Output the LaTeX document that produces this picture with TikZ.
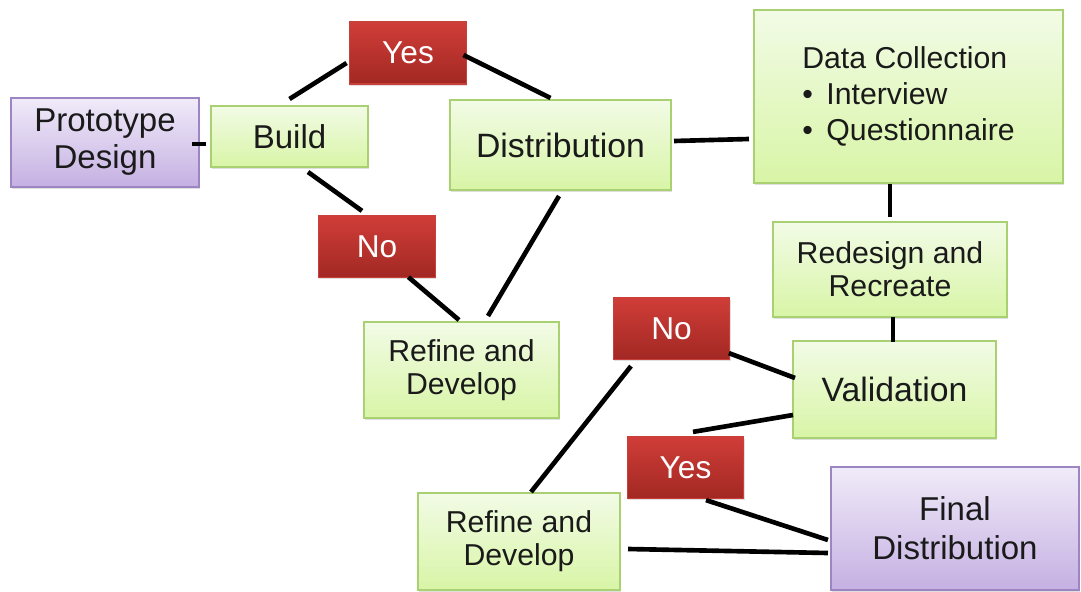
\documentclass[tikz,border=0pt]{standalone}
\usepackage{fontspec}
\setmainfont{Liberation Sans}
\usetikzlibrary{shadows}
\definecolor{greentop}{HTML}{F2FBE6}
\definecolor{greenbot}{HTML}{D8F5A6}
\definecolor{greenedge}{HTML}{A9D071}
\definecolor{redtop}{HTML}{D03D38}
\definecolor{redbot}{HTML}{A22823}
\definecolor{rededge}{HTML}{C9403B}
\definecolor{purpletop}{HTML}{F0EBF9}
\definecolor{purplebot}{HTML}{C5B0E2}
\definecolor{purpleedge}{HTML}{9C85C2}
\definecolor{inkgray}{HTML}{1A1A1A}
\begin{document}
\begin{tikzpicture}[x=0.025cm,y=-0.025cm,
        box/.style={rectangle,inner sep=0pt,outer sep=0pt,line width=0.8pt,align=center,
            drop shadow={shadow xshift=0.6pt,shadow yshift=-1.2pt,opacity=0.25}},
        greenbox/.style={box,draw=greenedge,top color=greentop,bottom color=greenbot,text=inkgray},
        redbox/.style={box,draw=rededge,top color=redtop,bottom color=redbot,text=white,
            minimum width=2.92cm,minimum height=1.53cm,font=\fontsize{22.5}{26}\selectfont},
        purplebox/.style={box,draw=purpleedge,top color=purpletop,bottom color=purplebot,text=inkgray},
        link/.style={line width=3.3pt,black}]
    \useasboundingbox (0,0) rectangle (1081,592);
    % left loop
    \node[purplebox,minimum width=4.7cm,minimum height=2.225cm,font=\fontsize{23.5}{26.3}\selectfont] (proto) at (105,142.5) {Prototype\\Design};
    \node[greenbox,minimum width=3.925cm,minimum height=1.525cm,font=\fontsize{23.5}{27}\selectfont] (build) at (289.5,136.5) {Build};
    \node[redbox,minimum height=1.55cm] (yes1) at (408,53) {Yes};
    \node[greenbox,minimum width=5.525cm,minimum height=2.25cm,font=\fontsize{24}{27}\selectfont] (dist) at (560.5,145) {Distribution};
    \node[redbox] (no1) at (377,246.5) {No};
    \node[greenbox,minimum width=4.875cm,minimum height=2.4cm,font=\fontsize{21.5}{23.5}\selectfont] (refine1) at (461.5,370) {Refine and\\Develop};
    % right side
    \node[greenbox,minimum width=7.725cm,minimum height=4.325cm,align=left,font=\fontsize{21.5}{25.6}\selectfont] (data) at (908.5,96.5)
        {Data Collection\\\makebox[0.8em][l]{\textbullet}Interview\\\makebox[0.8em][l]{\textbullet}Questionnaire};
    \node[greenbox,minimum width=5.85cm,minimum height=2.375cm,font=\fontsize{21.5}{23.5}\selectfont] (redesign) at (890,269.5) {Redesign and\\Recreate};
    \node[redbox] (no2) at (671.5,328.5) {No};
    \node[greenbox,minimum width=5.075cm,minimum height=2.425cm,font=\fontsize{24}{27}\selectfont] (valid) at (894.5,389.5) {Validation};
    \node[redbox] (yes2) at (685.5,467.5) {Yes};
    \node[greenbox,minimum width=5.05cm,minimum height=2.425cm,font=\fontsize{21.5}{23.5}\selectfont] (refine2) at (519,541.5) {Refine and\\Develop};
    \node[purplebox,minimum width=6.2cm,minimum height=3.075cm,font=\fontsize{23.5}{27.7}\selectfont] (final) at (955,528.5) {Final\\Distribution};
    % connectors
    \draw[link] ([shift={(-7,1.5)}]proto.east) -- ([shift={(-5,7.5)}]build.west);
    \draw[link] ([shift={(0,-7)}]build.north) -- ([shift={(-3,10)}]yes1.west);
    \draw[link] ([shift={(-3,2)}]yes1.east) -- ([shift={(-10,-2)}]dist.north);
    \draw[link] ([shift={(18.5,5)}]build.south) -- ([shift={(-15,-5)}]no1.north);
    \draw[link] ([shift={(-27,0)}]no1.south east) -- ([shift={(-2.5,-2)}]refine1.north);
    \draw[link] ([shift={(-1.5,6)}]dist.south) -- ([shift={(26.5,-6)}]refine1.north);
    \draw[link] ([shift={(3,-4)}]dist.east) -- ([shift={(-5,42.5)}]data.west);
    \draw[link] ([shift={(-18.5,1)}]data.south) -- ([shift={(0,-5)}]redesign.north);
    \draw[link] ([shift={(3,0)}]redesign.south) -- ([shift={(-1.5,1)}]valid.north);
    \draw[link] ([shift={(-1,-6)}]no2.south east) -- ([shift={(2,-11.5)}]valid.west);
    \draw[link] ([shift={(0,25.5)}]valid.west) -- ([shift={(7.5,-5)}]yes2.north);
    \draw[link] ([shift={(-40.5,7)}]no2.south) -- ([shift={(12,-1)}]refine2.north);
    \draw[link] ([shift={(20.5,2)}]yes2.south) -- ([shift={(-3,11.5)}]final.west);
    \draw[link] ([shift={(8,7.5)}]refine2.east) -- ([shift={(-3,24.5)}]final.west);
\end{tikzpicture}
\end{document}
